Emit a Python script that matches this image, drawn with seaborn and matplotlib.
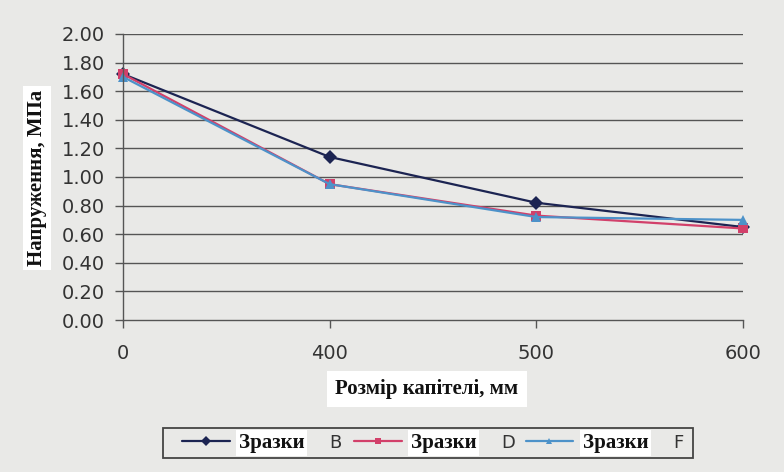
import matplotlib
matplotlib.use("Agg")
import matplotlib.pyplot as plt
from matplotlib.patches import Rectangle
import seaborn as sns
import pandas as pd

# Capital size categories (mm) and stress values (MPa) for each specimen group
sizes = ["0", "400", "500", "600"]
specimens_B = [1.72, 1.14, 0.82, 0.65]
specimens_D = [1.72, 0.95, 0.73, 0.64]
specimens_F = [1.70, 0.95, 0.72, 0.70]
series_names = ["B", "D", "F"]
series_word = "Зразки"
y_ticks = [0.0, 0.2, 0.4, 0.6, 0.8, 1.0, 1.2, 1.4, 1.6, 1.8, 2.0]

rows = []
for name, values in zip(series_names, [specimens_B, specimens_D, specimens_F]):
    for i, v in enumerate(values):
        rows.append({"pos": i, "stress": v, "series": name})
df = pd.DataFrame(rows)

sns.set_theme(style="white")
W, H = 784, 472
bg = "#e9e9e7"
fig = plt.figure(figsize=(W / 100, H / 100), dpi=100, facecolor=bg)
ax = fig.add_axes([123 / W, 1 - 320 / H, 620 / W, 286 / H])
ax.set_facecolor(bg)

palette = {"B": "#1c2452", "D": "#d2406a", "F": "#4d92c9"}
markers = {"B": "D", "D": "s", "F": "^"}

sns.lineplot(data=df, x="pos", y="stress", hue="series", style="series",
             palette=palette, markers=markers, dashes=False, markersize=7,
             linewidth=1.6, markeredgewidth=0, ax=ax, legend=True)
for line in ax.lines:
    line.set_clip_on(False)
ax.set_xlabel("")
ax.set_ylabel("")

ax.set_xlim(0, 3)
ax.set_ylim(0, 2.0)
ax.set_yticks(y_ticks)
ax.set_yticklabels([f"{t:.2f}" for t in y_ticks], fontsize=14,
                   family="DejaVu Sans", color="#333333")
ax.set_xticks(range(len(sizes)))
ax.set_xticklabels(sizes, fontsize=14, family="DejaVu Sans", color="#333333")

for t in y_ticks[1:]:
    ax.axhline(t, color="#555555", linewidth=1.0, zorder=0)

for side in ["top", "right"]:
    ax.spines[side].set_visible(False)
for side in ["left", "bottom"]:
    ax.spines[side].set_color("#555555")
    ax.spines[side].set_linewidth(1.0)

ax.tick_params(axis="both", which="major", length=6, width=1.0, color="#555555",
               left=True, bottom=True)
ax.tick_params(axis="y", pad=7)
ax.tick_params(axis="x", pad=11)

# Axis titles on white boxes
label_font = dict(family="Liberation Serif", fontweight="bold", fontsize=15,
                  color="#111111")
fig.text(427 / W, 1 - 389 / H, "Розмір капітелі, мм", ha="center", va="center",
         bbox=dict(facecolor="white", edgecolor="none", pad=6), **label_font)
fig.text(37 / W, 1 - 178 / H, "Напруження, МПа", ha="center", va="center",
         rotation=90, bbox=dict(facecolor="white", edgecolor="none", pad=3),
         **label_font)

# Legend: line handle, word on a white box, then the series letter
handles, labels = ax.get_legend_handles_labels()
ax.get_legend().remove()
for h in handles:
    h.set_markersize(5)
leg = fig.legend(handles, [series_word] * len(handles), loc="center left",
                 bbox_to_anchor=(163 / W, 1 - 443 / H), ncol=3, frameon=False,
                 prop={"family": "Liberation Serif", "weight": "bold", "size": 15},
                 handlelength=2.3, handletextpad=0.45, columnspacing=2.35,
                 borderpad=0.4)
for t in leg.get_texts():
    t.set_color("#111111")
    t.set_bbox(dict(facecolor="white", edgecolor="none", pad=2))

fig.canvas.draw()
renderer = fig.canvas.get_renderer()
last_x1 = None
for t, name in zip(leg.get_texts(), series_names):
    bb = t.get_window_extent(renderer)
    letter = fig.text((bb.x1 + 25) / W, ((bb.y0 + bb.y1) / 2) / H, name,
                      ha="left", va="center", fontsize=13, family="DejaVu Sans",
                      color="#333333")
    lb = letter.get_window_extent(renderer)
    last_x1 = lb.x1

frame_x0 = 163
frame_x1 = last_x1 + 9
frame_y0 = H - 458
frame_y1 = H - 428
fig.patches.append(Rectangle((frame_x0 / W, frame_y0 / H),
                             (frame_x1 - frame_x0) / W, (frame_y1 - frame_y0) / H,
                             transform=fig.transFigure, facecolor="none",
                             edgecolor="#444444", linewidth=1.3, zorder=5))

fig.savefig("out.png", dpi=100, facecolor=bg)
